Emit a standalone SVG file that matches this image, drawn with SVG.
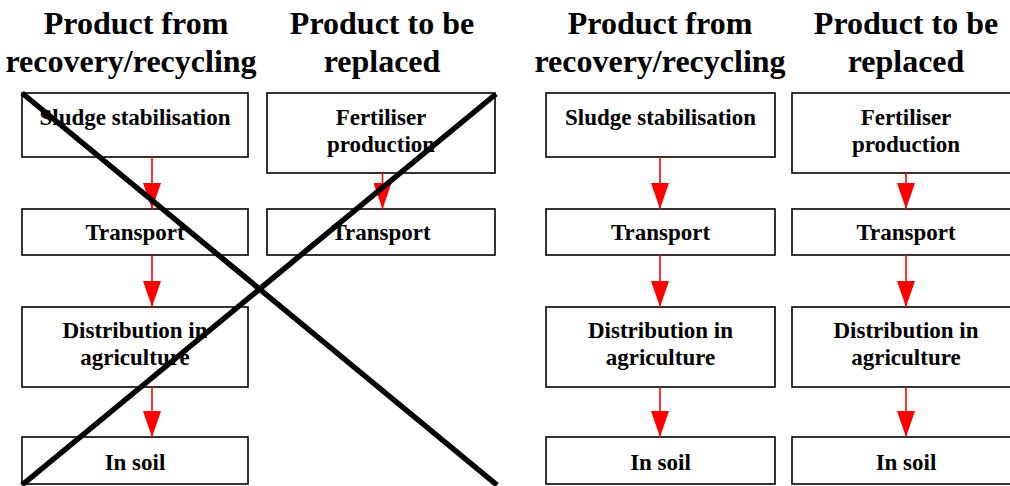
<svg xmlns="http://www.w3.org/2000/svg" width="1010" height="486" viewBox="0 0 1010 486">
  <defs>
    <style>
      .box { fill: #ffffff; stroke: #000000; stroke-width: 1.6; }
      .hdr { font-family: "Liberation Serif", "Times New Roman", serif; font-weight: bold; font-size: 32px; fill: #000000; text-anchor: middle; }
      .lbl { font-family: "Liberation Serif", "Times New Roman", serif; font-weight: bold; font-size: 23px; fill: #000000; text-anchor: middle; }
      .flow { stroke: #ff0000; stroke-width: 1.6; fill: none; }
      .cross { stroke: #000000; stroke-width: 5.5; stroke-linecap: butt; }
    </style>
    <!-- filled triangular arrowhead, tip at the end of the line -->
    <marker id="head" markerUnits="userSpaceOnUse" markerWidth="26" markerHeight="18" refX="26" refY="9" orient="auto" viewBox="0 0 26 18">
      <path d="M0,0 L26,9 L0,18 Z" fill="#ff0000"/>
    </marker>
  </defs>

  <!-- column headings -->
  <g id="headings">
    <text class="hdr" x="136" y="34">Product from</text>
    <text class="hdr" x="131" y="72">recovery/recycling</text>
    <text class="hdr" x="382" y="34">Product to be</text>
    <text class="hdr" x="382" y="72">replaced</text>
    <text class="hdr" x="660" y="34">Product from</text>
    <text class="hdr" x="660" y="72">recovery/recycling</text>
    <text class="hdr" x="906" y="34">Product to be</text>
    <text class="hdr" x="906" y="72">replaced</text>
  </g>

  <!-- left panel: recovery chain -->
  <g id="l-sludge"><rect class="box" x="22" y="93" width="226" height="64"/><text class="lbl" x="135" y="125">Sludge stabilisation</text></g>
  <g id="l-transport"><rect class="box" x="22" y="209" width="226" height="46"/><text class="lbl" x="135" y="240">Transport</text></g>
  <g id="l-distribution"><rect class="box" x="22" y="307" width="226" height="80"/><text class="lbl" x="135" y="338">Distribution in</text><text class="lbl" x="135" y="365">agriculture</text></g>
  <g id="l-soil"><rect class="box" x="22" y="437" width="226" height="47"/><text class="lbl" x="135" y="470">In soil</text></g>

  <!-- left panel: replaced product chain -->
  <g id="l-fertiliser"><rect class="box" x="267" y="93" width="228" height="80"/><text class="lbl" x="381" y="125">Fertiliser</text><text class="lbl" x="381" y="152">production</text></g>
  <g id="l-transport2"><rect class="box" x="267" y="209" width="228" height="46"/><text class="lbl" x="381" y="240">Transport</text></g>

  <!-- right panel: recovery chain -->
  <g id="r-sludge"><rect class="box" x="546" y="93" width="229" height="64"/><text class="lbl" x="660.5" y="125">Sludge stabilisation</text></g>
  <g id="r-transport"><rect class="box" x="546" y="209" width="229" height="46"/><text class="lbl" x="660.5" y="240">Transport</text></g>
  <g id="r-distribution"><rect class="box" x="546" y="307" width="229" height="80"/><text class="lbl" x="660.5" y="338">Distribution in</text><text class="lbl" x="660.5" y="365">agriculture</text></g>
  <g id="r-soil"><rect class="box" x="546" y="437" width="229" height="47"/><text class="lbl" x="660.5" y="470">In soil</text></g>

  <!-- right panel: replaced product chain -->
  <g id="r-fertiliser"><rect class="box" x="792" y="93" width="228" height="80"/><text class="lbl" x="906" y="125">Fertiliser</text><text class="lbl" x="906" y="152">production</text></g>
  <g id="r-transport2"><rect class="box" x="792" y="209" width="228" height="46"/><text class="lbl" x="906" y="240">Transport</text></g>
  <g id="r-distribution2"><rect class="box" x="792" y="307" width="228" height="80"/><text class="lbl" x="906" y="338">Distribution in</text><text class="lbl" x="906" y="365">agriculture</text></g>
  <g id="r-soil2"><rect class="box" x="792" y="437" width="228" height="47"/><text class="lbl" x="906" y="470">In soil</text></g>

  <!-- flow connectors -->
  <g id="connectors">
    <line class="flow" x1="152" y1="157" x2="152" y2="209" marker-end="url(#head)"/>
    <line class="flow" x1="152" y1="255" x2="152" y2="307" marker-end="url(#head)"/>
    <line class="flow" x1="152" y1="387" x2="152" y2="437" marker-end="url(#head)"/>
    <line class="flow" x1="382.5" y1="173" x2="382.5" y2="209" marker-end="url(#head)"/>

    <line class="flow" x1="660" y1="157" x2="660" y2="209" marker-end="url(#head)"/>
    <line class="flow" x1="660" y1="255" x2="660" y2="307" marker-end="url(#head)"/>
    <line class="flow" x1="660" y1="387" x2="660" y2="437" marker-end="url(#head)"/>
    <line class="flow" x1="906" y1="173" x2="906" y2="209" marker-end="url(#head)"/>
    <line class="flow" x1="906" y1="255" x2="906" y2="307" marker-end="url(#head)"/>
    <line class="flow" x1="906" y1="387" x2="906" y2="437" marker-end="url(#head)"/>
  </g>

  <!-- strike-through over the left panel -->
  <g id="strike">
    <line class="cross" x1="22" y1="93" x2="497" y2="485"/>
    <line class="cross" x1="496" y1="94" x2="22" y2="485"/>
  </g>
</svg>
